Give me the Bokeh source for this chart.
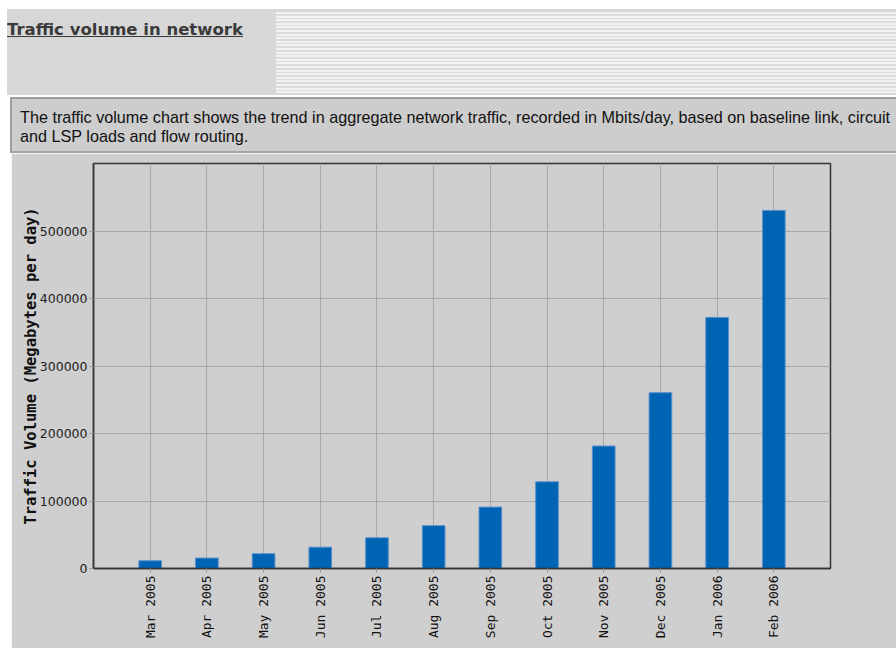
import math
from bokeh.plotting import figure
from bokeh.models import Div, FixedTicker, PrintfTickFormatter, Range1d
from bokeh.layouts import column
from bokeh.embed import file_html
from bokeh.resources import INLINE

# ---- data ----
months = ["Mar 2005", "Apr 2005", "May 2005", "Jun 2005", "Jul 2005", "Aug 2005",
          "Sep 2005", "Oct 2005", "Nov 2005", "Dec 2005", "Jan 2006", "Feb 2006"]
volumes = [11500, 15500, 22000, 31600, 45500, 63500,
           91000, 128500, 181500, 260500, 372000, 530500]
y_ticks = [0, 100000, 200000, 300000, 400000, 500000]
page_title = "Traffic volume in network"
desc_line1 = ("The traffic volume chart shows the trend in aggregate network traffic, "
              "recorded in Mbits/day, based on baseline link, circuit")
desc_line2 = "and LSP loads and flow routing."
y_label = "Traffic Volume (Megabytes per day)"

# ---- header ----
header = Div(
    text=(
        "<div style=\"position:relative;width:889px;height:86px;background:#d7d7d7;overflow:hidden;\">"
        "<div style=\"position:absolute;left:269px;top:3px;width:620px;height:81px;"
        "background:repeating-linear-gradient(to bottom,#f2f2f2 0px,#f2f2f2 2px,#dcdcdc 2px,#dcdcdc 3.6px);\"></div>"
        "<span style=\"position:absolute;left:0px;top:9px;font-family:'DejaVu Sans';font-weight:bold;"
        "font-size:16.5px;color:#3a3a3a;text-decoration:underline;white-space:nowrap;\">"
        + page_title + "</span></div>"
    ),
    width=889, height=86, margin=(9, 0, 0, 7),
)

desc = Div(
    text=(
        "<div style=\"margin-left:3px;margin-top:2px;width:886px;height:56px;box-sizing:border-box;"
        "background:#cdcdcd;border-top:2px solid #9c9c9c;border-left:2px solid #9c9c9c;"
        "border-bottom:2px solid #a4a4a4;padding:9px 0 0 8px;font-family:'Liberation Sans';"
        "font-size:16.2px;line-height:18.5px;color:#111;white-space:nowrap;overflow:hidden;\">"
        + desc_line1 + "<br>" + desc_line2 + "</div>"
    ),
    width=889, height=58, margin=(0, 0, 0, 7),
)

# ---- chart ----
pos = [i + 1 for i in range(len(months))]

p = figure(width=885, height=495, x_range=Range1d(0, len(months) + 1), y_range=Range1d(0, 600000),
           output_backend="svg", toolbar_location=None, title=None,
           min_border_left=82, min_border_right=66, min_border_top=10, min_border_bottom=80,
           background_fill_color="#cfcfcf", border_fill_color="#cfcfcf",
           outline_line_color="#333333", outline_line_width=1.5, margin=(0, 0, 0, 11))

p.vbar(x=pos, top=volumes, width=0.4, fill_color="#0064b4", line_color="#5b92cb", line_width=1)

p.xaxis.ticker = FixedTicker(ticks=pos)
p.xaxis.major_label_overrides = {x: m for x, m in zip(pos, months)}
p.xaxis.major_label_orientation = math.pi / 2
p.xaxis.major_label_text_font = "DejaVu Sans Mono"
p.xaxis.major_label_text_font_size = "13px"
p.xaxis.major_label_text_color = "#111111"
p.xaxis.major_label_standoff = 3

p.yaxis.ticker = FixedTicker(ticks=y_ticks)
p.yaxis.formatter = PrintfTickFormatter(format="%d")
p.yaxis.major_label_text_font = "DejaVu Sans"
p.yaxis.major_label_text_font_size = "12.5px"
p.yaxis.major_label_text_color = "#222222"
p.yaxis.major_label_standoff = 2
p.yaxis.axis_label = y_label
p.yaxis.axis_label_text_font = "DejaVu Sans Mono"
p.yaxis.axis_label_text_font_style = "bold"
p.yaxis.axis_label_text_font_size = "15.5px"
p.yaxis.axis_label_text_color = "#111111"
p.yaxis.axis_label_standoff = -3

for ax in (p.xaxis, p.yaxis):
    ax.axis_line_color = "#333333"
    ax.axis_line_width = 1.5
    ax.major_tick_line_color = "#999999"
    ax.major_tick_out = 4
    ax.major_tick_in = 0
    ax.minor_tick_line_color = None

p.xgrid.grid_line_color = "#a8a8a8"
p.ygrid.grid_line_color = "#a8a8a8"
p.xgrid.grid_line_width = 1
p.ygrid.grid_line_width = 1

layout = column(header, desc, p, spacing=0)
open("out.html", "w").write(file_html(layout, INLINE))
